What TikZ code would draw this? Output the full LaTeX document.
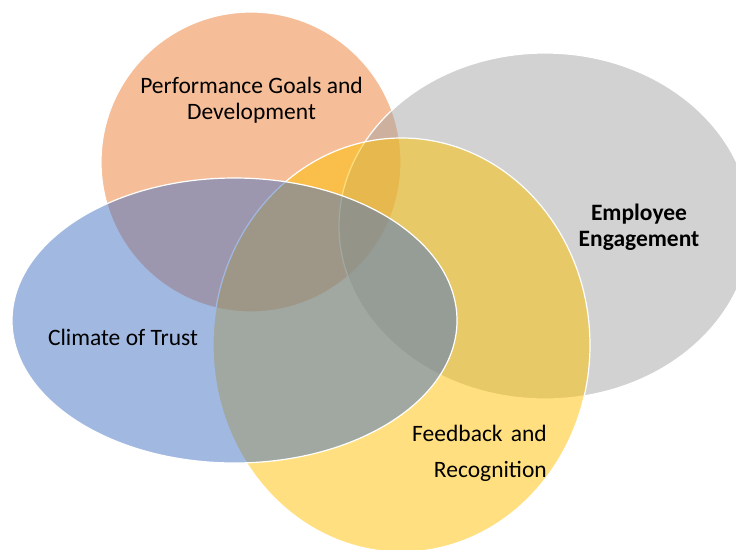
\documentclass[tikz,border=0pt]{standalone}
\usepackage{fontspec}
\setmainfont{Carlito}
\usetikzlibrary{shapes.geometric}

\definecolor{goalorange}{HTML}{ED7D31}
\definecolor{engagegray}{HTML}{A5A5A5}
\definecolor{feedgold}{HTML}{FFC000}
\definecolor{trustblue}{HTML}{4472C4}

\begin{document}
\begin{tikzpicture}[x=1pt,y=-1pt,
  blob/.style={ellipse,draw=white,line width=1.2pt,fill=#1,fill opacity=0.5,inner sep=0pt},
  lbl/.style={font=\fontsize{23.5}{26}\selectfont,text=black,align=center,inner sep=0pt}]
  \useasboundingbox (0,0) rectangle (736,549);
  \clip (0,0) rectangle (736,549);
  % the four sets, back to front
  \node[blob=goalorange,minimum width=300pt,minimum height=300pt] (goals) at (251,162) {};
  \node[blob=engagegray,minimum width=412pt,minimum height=346pt] (engage) at (545,226) {};
  \node[blob=feedgold,minimum width=377pt,minimum height=414pt] (feed) at (401.5,345) {};
  \node[blob=trustblue,minimum width=445pt,minimum height=285pt] (trust) at (234.5,320.5) {};
  % labels
  \node[lbl] (goalstxt) at (251.5,100.5) {Performance Goals and\\Development};
  \node[lbl,font=\fontsize{23.5}{26}\selectfont\bfseries] (engagetxt) at (639,227) {Employee\\Engagement};
  \node[lbl] (trusttxt) at (123,337) {Climate of Trust};
  \node[lbl,align=right,anchor=east,font=\fontsize{23.5}{36}\selectfont] (feedtxt) at (547,453)
    {Feedback\hspace{0.35em}and\\Recognition};
\end{tikzpicture}
\end{document}
